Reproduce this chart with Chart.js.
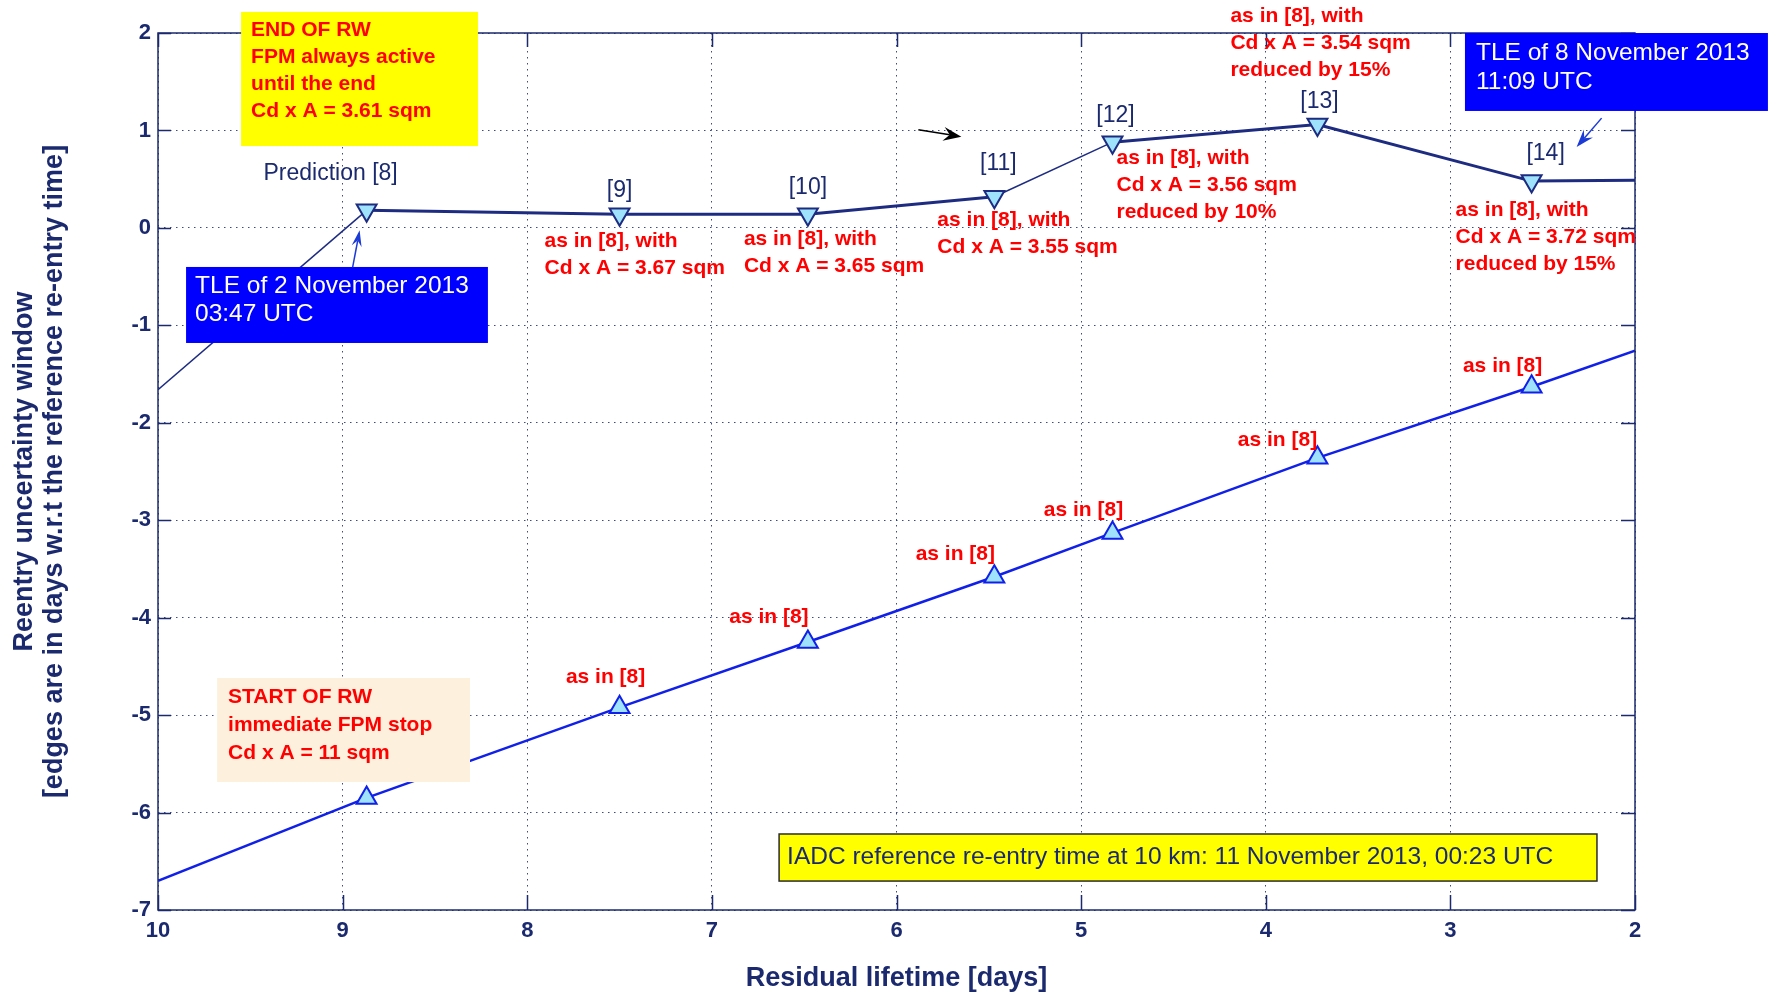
<!DOCTYPE html>
<html>
<head>
<meta charset="utf-8">
<title>Reentry uncertainty window</title>
<script src="https://cdn.jsdelivr.net/npm/chart.js@4.4.1/dist/chart.umd.min.js"></script>
<style>
  html, body { margin: 0; padding: 0; background: #ffffff; }
  #wrap { width: 1769px; height: 992px; }
</style>
</head>
<body>
<div id="wrap"><canvas id="c" width="1769" height="992"></canvas></div>
<script>
// Residual lifetime of each prediction [days]
const residualLifetime = [8.87, 7.50, 6.48, 5.47, 4.83, 3.72, 2.56];
// Upper and lower edges of the re-entry window [days w.r.t. reference time]
const upperEdge = [0.18, 0.14, 0.14, 0.32, 0.88, 1.06, 0.48];
const lowerEdge = [-5.85, -4.92, -4.25, -3.58, -3.13, -2.36, -1.63];
// Edge values where the curves meet the ends of the lifetime axis
const rangeEnds = [10, 2];
const upperEnds = [-1.66, 0.49];
const lowerEnds = [-6.70, -1.26];

// Tick labels
const xTicks = [10, 9, 8, 7, 6, 5, 4, 3, 2];
const yTicks = [2, 1, 0, -1, -2, -3, -4, -5, -6, -7];

// Text attached to the predictions
const predictionRefs = ['Prediction [8]', '[9]', '[10]', '[11]', '[12]', '[13]', '[14]'];
const upperNotes = [
  null,
  ['as in [8], with', 'Cd x A = 3.67 sqm'],
  ['as in [8], with', 'Cd x A = 3.65 sqm'],
  ['as in [8], with', 'Cd x A = 3.55 sqm'],
  ['as in [8], with', 'Cd x A = 3.56 sqm', 'reduced by 10%'],
  ['as in [8], with', 'Cd x A = 3.54 sqm', 'reduced by 15%'],
  ['as in [8], with', 'Cd x A = 3.72 sqm', 'reduced by 15%']
];
const lowerNotes = [null, 'as in [8]', 'as in [8]', 'as in [8]', 'as in [8]', 'as in [8]', 'as in [8]'];

const boxEndText = ['END OF RW', 'FPM always active', 'until the end', 'Cd x A = 3.61 sqm'];
const boxStartText = ['START OF RW', 'immediate FPM stop', 'Cd x A = 11 sqm'];
const boxTle1Text = ['TLE of 2 November 2013', '03:47 UTC'];
const boxTle2Text = ['TLE of 8 November 2013', '11:09 UTC'];
const boxIadcText = ['IADC reference re-entry time at 10 km: 11 November 2013, 00:23 UTC'];

// ---------------------------------------------------------------------------
const FONT = "'Liberation Sans', Arial, Helvetica, sans-serif";
const NAVY = '#1b2a6e';
const LINE_NAVY = '#1d2c80';
const LINE_BLUE = '#1020e8';
const RED = '#ff0000';
const MARKER_FILL = '#9fe2fb';

const upperPoints = [{ x: rangeEnds[0], y: upperEnds[0] }]
  .concat(residualLifetime.map((x, i) => ({ x, y: upperEdge[i] })))
  .concat([{ x: rangeEnds[1], y: upperEnds[1] }]);
const lowerPoints = [{ x: rangeEnds[0], y: lowerEnds[0] }]
  .concat(residualLifetime.map((x, i) => ({ x, y: lowerEdge[i] })))
  .concat([{ x: rangeEnds[1], y: lowerEnds[1] }]);

// thin connecting pieces of the upper edge (segment index = start point index)
const thinUpperSegments = [0, 4];
const endMarker = (c) => (c.dataIndex === 0 || c.dataIndex === c.dataset.data.length - 1) ? 0 : 11.5;

// Annotation layout (offsets in px from the prediction markers)
const refOffsets = [[-36, -37], [0, -24], [0, -27], [4, -33], [3, -26], [2, -23], [14, -27]];
const upperNoteOffsets = [null, [-75, 27], [-64, 25], [-57, 23], [4, 16], [-87, -108], [-76, 29]];
const lowerNoteOffsets = [null, [-14, -30], [-39, -25], [-39, -23], [-29, -23], [-40, -18], [-29, -21]];

// Boxes placed in axis units: [xLeft, yTop, xRight, yBottom]
const boxes = [
  { at: [9.550, 2.216, 8.267, 0.840], fill: '#ffff00', lines: boxEndText, color: RED,
    font: 'bold 21px ' + FONT, padX: 10, first: 18, gap: 27 },
  { at: [9.848, -0.401, 8.213, -1.181], fill: '#0000ff', lines: boxTle1Text, color: '#ffffff',
    font: '24.5px ' + FONT, padX: 9, first: 19, gap: 28 },
  { at: [2.921, 2.0, 1.280, 1.200], fill: '#0000ff', lines: boxTle2Text, color: '#ffffff',
    font: '24.5px ' + FONT, padX: 11, first: 20, gap: 29 },
  { at: [9.680, -4.619, 8.310, -5.687], fill: '#fdf0dd', lines: boxStartText, color: RED,
    font: 'bold 21px ' + FONT, padX: 11, first: 19, gap: 28 },
  { at: [6.636, -6.220, 2.206, -6.703], fill: '#ffff00', stroke: '#2b2b2b', lines: boxIadcText, color: NAVY,
    font: '24.5px ' + FONT, padX: 8, first: 23, gap: 28 }
];

// Arrows anchored to upper-edge markers
const arrows = [
  { p: 0, tail: [-14, 57], tip: [-7, 20], color: '#1c3ad6', width: 1.5, head: 16, half: 5 },
  { p: 6, tail: [70, -63], tip: [45, -34], color: '#1c3ad6', width: 1.5, head: 18, half: 6 },
  { p: 3, tail: [-76, -67], tip: [-33, -60], color: '#000000', width: 1.5, head: 18, half: 7 }
];

function drawArrow(ctx, x0, y0, x1, y1, a) {
  const ang = Math.atan2(y1 - y0, x1 - x0);
  const ux = Math.cos(ang), uy = Math.sin(ang);
  const bx = x1 - ux * a.head, by = y1 - uy * a.head;
  const mx = x1 - ux * a.head * 0.65, my = y1 - uy * a.head * 0.65;
  ctx.save();
  ctx.strokeStyle = a.color;
  ctx.fillStyle = a.color;
  ctx.lineWidth = a.width;
  ctx.beginPath();
  ctx.moveTo(x0, y0);
  ctx.lineTo(mx, my);
  ctx.stroke();
  ctx.beginPath();
  ctx.moveTo(x1, y1);
  ctx.lineTo(bx - uy * a.half, by + ux * a.half);
  ctx.lineTo(mx, my);
  ctx.lineTo(bx + uy * a.half, by - ux * a.half);
  ctx.closePath();
  ctx.fill();
  ctx.restore();
}

const framePlugin = {
  id: 'frame',
  afterDatasetsDraw(chart) {
    const { ctx, chartArea: a, scales: { x, y } } = chart;
    ctx.save();
    ctx.strokeStyle = NAVY;
    ctx.lineWidth = 1.5;
    ctx.beginPath();
    xTicks.forEach(v => {
      const px = Math.round(x.getPixelForValue(v)) + 0.5;
      ctx.moveTo(px, a.bottom); ctx.lineTo(px, a.bottom - 15);
      ctx.moveTo(px, a.top); ctx.lineTo(px, a.top + 14);
    });
    yTicks.forEach(v => {
      const py = Math.round(y.getPixelForValue(v)) + 0.5;
      ctx.moveTo(a.left, py); ctx.lineTo(a.left + 13, py);
      ctx.moveTo(a.right, py); ctx.lineTo(a.right - 14, py);
    });
    ctx.stroke();
    ctx.strokeRect(a.left, a.top, a.right - a.left, a.bottom - a.top);
    ctx.restore();
  }
};

const annotationPlugin = {
  id: 'notes',
  afterDatasetsDraw(chart) {
    const { ctx, scales: { x, y } } = chart;
    const up = chart.getDatasetMeta(0).data;
    const lo = chart.getDatasetMeta(1).data;
    ctx.save();

    // boxes
    boxes.forEach(b => {
      const l = x.getPixelForValue(b.at[0]), t = y.getPixelForValue(b.at[1]);
      const r = x.getPixelForValue(b.at[2]), btm = y.getPixelForValue(b.at[3]);
      ctx.fillStyle = b.fill;
      ctx.fillRect(l, t, r - l, btm - t);
      if (b.stroke) {
        ctx.strokeStyle = b.stroke;
        ctx.lineWidth = 1.5;
        ctx.strokeRect(l, t, r - l, btm - t);
      }
      ctx.fillStyle = b.color;
      ctx.font = b.font;
      ctx.textAlign = 'left';
      ctx.textBaseline = 'middle';
      b.lines.forEach((s, i) => ctx.fillText(s, l + b.padX, t + b.first + i * b.gap));
    });

    // prediction references above the upper edge
    ctx.fillStyle = NAVY;
    ctx.font = '23px ' + FONT;
    ctx.textAlign = 'center';
    ctx.textBaseline = 'middle';
    predictionRefs.forEach((s, i) => {
      const p = up[i + 1];
      ctx.fillText(s, p.x + refOffsets[i][0], p.y + refOffsets[i][1]);
    });

    // notes on the upper edge
    ctx.fillStyle = RED;
    ctx.font = 'bold 21px ' + FONT;
    ctx.textAlign = 'left';
    upperNotes.forEach((lines, i) => {
      if (!lines) return;
      const p = up[i + 1];
      lines.forEach((s, k) => ctx.fillText(s, p.x + upperNoteOffsets[i][0], p.y + upperNoteOffsets[i][1] + k * 27));
    });

    // notes on the lower edge
    ctx.textAlign = 'center';
    lowerNotes.forEach((s, i) => {
      if (!s) return;
      const p = lo[i + 1];
      ctx.fillText(s, p.x + lowerNoteOffsets[i][0], p.y + lowerNoteOffsets[i][1]);
    });

    // arrows
    arrows.forEach(a => {
      const p = up[a.p + 1];
      drawArrow(ctx, p.x + a.tail[0], p.y + a.tail[1], p.x + a.tip[0], p.y + a.tip[1], a);
    });
    ctx.restore();
  }
};

const gridStyle = { color: 'rgba(27,42,110,0.85)', lineWidth: 1, drawTicks: false };
const tickFont = { family: FONT, size: 22, weight: 'bold' };

new Chart(document.getElementById('c'), {
  type: 'line',
  data: {
    datasets: [
      {
        label: 'Upper edge',
        data: upperPoints,
        borderColor: LINE_NAVY,
        borderWidth: 3,
        segment: { borderWidth: c => thinUpperSegments.includes(c.p0DataIndex) ? 1.5 : 3 },
        pointStyle: 'triangle',
        pointRotation: 180,
        pointRadius: endMarker,
        pointBackgroundColor: MARKER_FILL,
        pointBorderColor: LINE_NAVY,
        pointBorderWidth: 2,
        tension: 0,
        fill: false
      },
      {
        label: 'Lower edge',
        data: lowerPoints,
        borderColor: LINE_BLUE,
        borderWidth: 2.5,
        pointStyle: 'triangle',
        pointRotation: 0,
        pointRadius: endMarker,
        pointBackgroundColor: MARKER_FILL,
        pointBorderColor: LINE_BLUE,
        pointBorderWidth: 2,
        tension: 0,
        fill: false
      }
    ]
  },
  options: {
    responsive: false,
    devicePixelRatio: 1,
    animation: false,
    events: [],
    layout: { padding: { top: 33, right: 134, left: 0, bottom: 0 } },
    plugins: { legend: { display: false }, tooltip: { enabled: false } },
    scales: {
      x: {
        type: 'linear',
        position: 'bottom',
        min: 2,
        max: 10,
        reverse: true,
        afterBuildTicks: s => { s.ticks = xTicks.map(v => ({ value: v })); },
        afterFit: s => { s.height = 82; },
        ticks: { color: NAVY, font: tickFont, padding: 8, maxRotation: 0, autoSkip: false },
        grid: gridStyle,
        border: { display: false, dash: [1.5, 4.5] },
        title: {
          display: true,
          text: 'Residual lifetime [days]',
          color: NAVY,
          font: { family: FONT, size: 27, weight: 'bold', lineHeight: 1 },
          padding: { top: 0, bottom: 0 }
        }
      },
      y: {
        type: 'linear',
        position: 'left',
        min: -7,
        max: 2,
        afterBuildTicks: s => { s.ticks = yTicks.map(v => ({ value: v })); },
        afterFit: s => { s.width = 158; },
        ticks: { color: NAVY, font: tickFont, padding: 7, autoSkip: false },
        grid: gridStyle,
        border: { display: false, dash: [1.5, 4.5] },
        title: {
          display: true,
          text: ['Reentry uncertainty window', '[edges are in days w.r.t the reference re-entry time]'],
          color: NAVY,
          font: { family: FONT, size: 27, weight: 'bold', lineHeight: 1.1 },
          padding: { top: 10, bottom: 0 }
        }
      }
    }
  },
  plugins: [framePlugin, annotationPlugin]
});
</script>
</body>
</html>
